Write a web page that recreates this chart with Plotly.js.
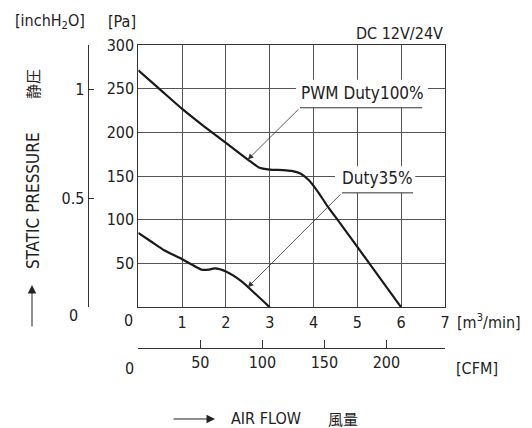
<!DOCTYPE html>
<html>
<head>
<meta charset="utf-8">
<script src="https://cdn.plot.ly/plotly-3.0.1.min.js"></script>
<style>html,body{margin:0;padding:0;background:#fff;}#chart{width:532px;height:428px;}</style>
</head>
<body>
<div id="chart"></div>
<script>
// Data (airflow in m3/min, static pressure in Pa)
const flowDuty100 = [0, 0.5, 1, 1.5, 2, 2.5, 2.75, 3, 3.3, 3.5, 3.7, 3.9, 4.1, 4.3, 4.6, 5, 5.5, 6];
const pressDuty100 = [271, 249, 227, 207, 188, 169, 160, 157.5, 157, 156, 153, 145, 132, 117, 96.5, 69, 34.5, 0];
const flowDuty35 = [0, 0.3, 0.6, 1.0, 1.25, 1.45, 1.6, 1.75, 2.0, 2.35, 2.7, 3.0];
const pressDuty35 = [85, 75, 65, 55, 48, 43, 43, 44.5, 41, 30, 14, 0];

const flowTicks = [1, 2, 3, 4, 5, 6, 7];
const paTicks = [50, 100, 150, 200, 250, 300];
const inchTicks = [0, 0.5, 1];
const inchTickText = ['', '0.5', '1'];
const cfmTicks = [0, 50, 100, 150, 200];
const cfmTickText = ['', '50', '100', '150', '200'];

const FONT = "'Liberation Sans Narrow', 'DejaVu Sans Condensed', 'Liberation Sans', Arial, sans-serif";
const CJK = "'Noto Sans CJK JP', 'Noto Sans CJK SC', sans-serif";
const TXT = '#222';
const GRID = '#555';
const X0 = 0.2034; // domain start of main x axis

const traces = [
  {x: flowDuty100, y: pressDuty100, mode: 'lines', line: {color: '#1a1a1a', width: 2.2, shape: 'spline', smoothing: 0.6}, hoverinfo: 'skip', showlegend: false},
  {x: flowDuty35, y: pressDuty35, mode: 'lines', line: {color: '#1a1a1a', width: 2.2, shape: 'spline', smoothing: 0.8}, hoverinfo: 'skip', showlegend: false},
  {x: [0], y: [0], xaxis: 'x2', yaxis: 'y2', mode: 'markers', marker: {opacity: 0}, hoverinfo: 'skip', showlegend: false}
];

function txt(text, x, y, opts) {
  return Object.assign({text: text, x: x, y: y, xref: 'paper', yref: 'paper', showarrow: false,
    font: {family: FONT, size: 16, color: TXT}, xanchor: 'center', yanchor: 'middle'}, opts || {});
}

const annotations = [
  txt('[inchH<sub>2</sub>O]', -0.026, 1.07),
  txt('[Pa]', 0.161, 1.07),
  txt('DC 12V/24V', 1.0, 1.0358, {xanchor: 'right'}),
  txt('0', 0.179, 0.179),
  txt('0', 0.052, 0.194, {xanchor: 'right'}),
  txt('0', 0.1818, 0.0358),
  txt('[m<sup>3</sup>/min]', 1.026, 0.176, {xanchor: 'left'}),
  txt('[CFM]', 1.083, 0.0358),
  txt('AIR FLOW', 0.535, -0.1164, {font: {family: FONT, size: 16, color: TXT}}),
  txt('風量', 0.735, -0.1164, {font: {family: CJK, size: 15, color: TXT}}),
  txt('STATIC PRESSURE', -0.0701, 0.534, {textangle: -90, font: {family: FONT, size: 17, color: TXT}}),
  txt('静圧', -0.0701, 0.8836, {textangle: -90, font: {family: CJK, size: 15, color: TXT}}),
  // axis arrows
  {x: -0.0727, y: 0.2836, xref: 'paper', yref: 'paper', text: '', showarrow: true, ax: 0, ay: 43,
   arrowhead: 2, arrowsize: 1.7, arrowwidth: 1, arrowcolor: TXT},
  {x: 0.4026, y: -0.1164, xref: 'paper', yref: 'paper', text: '', showarrow: true, ax: -43, ay: 0,
   arrowhead: 2, arrowsize: 1.7, arrowwidth: 1, arrowcolor: TXT},
  // curve labels
  {x: 5.12, y: 245.4, xref: 'x', yref: 'y', text: 'PWM Duty100%', showarrow: false, font: {family: FONT, size: 17, color: TXT}},
  {x: 5.47, y: 148, xref: 'x', yref: 'y', text: 'Duty35%', showarrow: false, font: {family: FONT, size: 17, color: TXT}},
  {x: 2.5, y: 169, xref: 'x', yref: 'y', ax: 3.69, ay: 228.2, axref: 'x', ayref: 'y', text: '', showarrow: true,
   arrowhead: 2, arrowsize: 1.4, arrowwidth: 0.8, arrowcolor: '#333'},
  {x: 2.5, y: 23, xref: 'x', yref: 'y', ax: 4.65, ay: 130.9, axref: 'x', ayref: 'y', text: '', showarrow: true,
   arrowhead: 2, arrowsize: 1.4, arrowwidth: 0.8, arrowcolor: '#333'}
];

const shapes = [
  {type: 'rect', xref: 'x', yref: 'y', x0: 3.60, x1: 6.61, y0: 228.2, y1: 260.2, fillcolor: '#fff', line: {width: 0}, layer: 'between'},
  {type: 'rect', xref: 'x', yref: 'y', x0: 4.49, x1: 6.32, y0: 130.9, y1: 161.4, fillcolor: '#fff', line: {width: 0}, layer: 'between'},
  {type: 'line', xref: 'x', yref: 'y', x0: 3.69, x1: 6.48, y0: 228.2, y1: 228.2, line: {color: '#333', width: 1}},
  {type: 'line', xref: 'x', yref: 'y', x0: 4.65, x1: 6.27, y0: 130.9, y1: 130.9, line: {color: '#333', width: 1}}
];

const layout = {
  width: 532, height: 428,
  margin: {l: 60, r: 87, t: 45, b: 48},
  paper_bgcolor: '#fff', plot_bgcolor: '#fff',
  font: {family: FONT, size: 16, color: TXT},
  showlegend: false,
  xaxis: {domain: [X0, 1], range: [0, 7], tickvals: flowTicks, ticktext: flowTicks.map(String),
    showgrid: true, gridcolor: GRID, gridwidth: 1, zeroline: false, showline: true, mirror: true,
    linecolor: '#333', linewidth: 1, ticks: '', tickfont: {family: FONT, size: 16, color: TXT}, fixedrange: true},
  yaxis: {domain: [0.217, 1], range: [0, 300], tickvals: paTicks, ticktext: paTicks.map(String),
    showgrid: true, gridcolor: GRID, gridwidth: 1, zeroline: false, showline: true, mirror: true,
    linecolor: '#333', linewidth: 1, ticks: '', tickfont: {family: FONT, size: 16, color: TXT}, fixedrange: true},
  xaxis2: {overlaying: 'x', anchor: 'free', position: 0.0955, side: 'bottom', range: [0, 7 * 35.3147],
    tickvals: cfmTicks, ticktext: cfmTickText, ticks: 'inside', ticklen: 8, tickcolor: '#333',
    showline: true, linecolor: '#333', linewidth: 1, showgrid: false, zeroline: false,
    tickfont: {family: FONT, size: 16, color: TXT}, fixedrange: true},
  yaxis2: {overlaying: 'y', anchor: 'free', position: 0.0719, side: 'left', range: [0, 300 / 249.0889],
    tickvals: inchTicks, ticktext: inchTickText, ticks: 'inside', ticklen: 5, tickcolor: '#333',
    showline: true, linecolor: '#333', linewidth: 1, showgrid: false, zeroline: false,
    tickfont: {family: FONT, size: 16, color: TXT}, fixedrange: true},
  annotations: annotations,
  shapes: shapes
};

Plotly.newPlot('chart', traces, layout, {staticPlot: true, displayModeBar: false});
</script>
</body>
</html>
